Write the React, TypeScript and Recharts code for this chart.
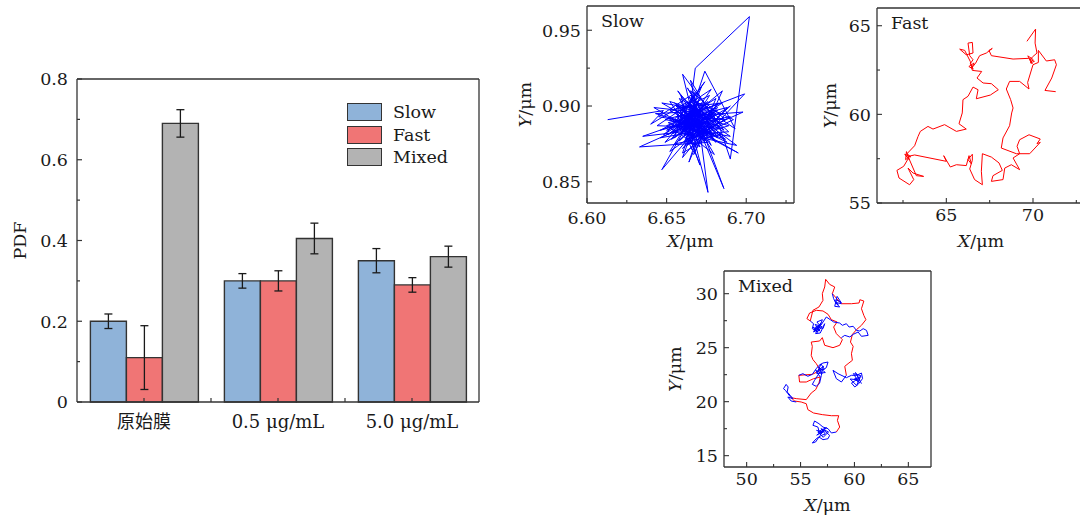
import React from "react";
import { BarChart, Bar, XAxis, YAxis, ErrorBar, Legend, LineChart, Line } from "recharts";

const FONT = "'DejaVu Serif', 'Noto Sans CJK SC', serif";
const INK = "#1a1a1a";
const AXIS = "#333333";

// ---- PDF bar chart ----
const categories = ["原始膜", "0.5 μg/mL", "5.0 μg/mL"];
const seriesNames = ["Slow", "Fast", "Mixed"];
const slowPdf = [0.2, 0.3, 0.35];
const slowErr = [0.018, 0.018, 0.03];
const fastPdf = [0.11, 0.3, 0.29];
const fastErr = [0.079, 0.025, 0.018];
const mixedPdf = [0.69, 0.405, 0.36];
const mixedErr = [0.034, 0.038, 0.026];
const pdfTicks = [0, 0.1, 0.2, 0.3, 0.4, 0.5, 0.6, 0.7, 0.8];

const barData = categories.map((name, i) => ({
  name,
  slow: slowPdf[i],
  slowErr: slowErr[i],
  fast: fastPdf[i],
  fastErr: fastErr[i],
  mixed: mixedPdf[i],
  mixedErr: mixedErr[i],
}));

// ---- trajectories (x, y in μm) ----
const slowPath: [number, number][] = [
  [6.613, 0.891], [6.648, 0.897], [6.64, 0.888], [6.662, 0.902], [6.655, 0.879], [6.671, 0.895],
  [6.65, 0.884], [6.682, 0.899], [6.66, 0.872], [6.676, 0.887], [6.645, 0.893], [6.668, 0.909],
  [6.657, 0.886], [6.69, 0.893], [6.665, 0.878], [6.673, 0.902], [6.652, 0.897], [6.68, 0.881],
  [6.662, 0.89], [6.635, 0.88], [6.668, 0.884], [6.658, 0.905], [6.684, 0.889], [6.666, 0.897],
  [6.649, 0.876], [6.677, 0.893], [6.661, 0.884], [6.672, 0.913], [6.654, 0.89], [6.687, 0.878],
  [6.669, 0.892], [6.66, 0.866], [6.675, 0.885], [6.647, 0.902], [6.67, 0.898], [6.663, 0.88],
  [6.681, 0.895], [6.656, 0.893], [6.676, 0.876], [6.633, 0.873], [6.665, 0.888], [6.671, 0.906],
  [6.659, 0.882], [6.694, 0.874], [6.667, 0.895], [6.652, 0.87], [6.679, 0.89], [6.664, 0.9],
  [6.686, 0.884], [6.66, 0.921], [6.668, 0.887], [6.655, 0.898], [6.674, 0.88], [6.699, 0.908],
  [6.662, 0.893], [6.671, 0.873], [6.65, 0.887], [6.683, 0.902], [6.666, 0.883], [6.676, 0.843],
  [6.67, 0.891], [6.658, 0.877], [6.679, 0.897], [6.643, 0.895], [6.672, 0.886], [6.665, 0.91],
  [6.686, 0.892], [6.657, 0.884], [6.669, 0.899], [6.647, 0.858], [6.664, 0.879], [6.689, 0.887],
  [6.661, 0.896], [6.674, 0.916], [6.653, 0.886], [6.677, 0.889], [6.667, 0.868], [6.685, 0.91],
  [6.66, 0.888], [6.673, 0.894], [6.698, 0.896], [6.666, 0.881], [6.651, 0.892], [6.678, 0.883],
  [6.663, 0.903], [6.686, 0.8455], [6.671, 0.888], [6.656, 0.901], [6.68, 0.878], [6.668, 0.893],
  [6.655, 0.902], [6.681, 0.876], [6.664, 0.897], [6.672, 0.879], [6.651, 0.889], [6.688, 0.899],
  [6.667, 0.874], [6.659, 0.907], [6.679, 0.886], [6.662, 0.878], [6.673, 0.899], [6.646, 0.884],
  [6.684, 0.895], [6.666, 0.871], [6.656, 0.896], [6.677, 0.907], [6.661, 0.881], [6.689, 0.883],
  [6.669, 0.902], [6.653, 0.878], [6.675, 0.892], [6.663, 0.912], [6.682, 0.879], [6.658, 0.893],
  [6.671, 0.881], [6.642, 0.899], [6.668, 0.896], [6.678, 0.874], [6.66, 0.899], [6.685, 0.902],
  [6.654, 0.882], [6.672, 0.889], [6.664, 0.863], [6.681, 0.905], [6.657, 0.889], [6.676, 0.881],
  [6.666, 0.904], [6.692, 0.891], [6.661, 0.876], [6.67, 0.897], [6.649, 0.891], [6.683, 0.885],
  [6.665, 0.917], [6.674, 0.876], [6.656, 0.9], [6.68, 0.893], [6.662, 0.886], [6.671, 0.861],
  [6.659, 0.894], [6.687, 0.891], [6.667, 0.879], [6.652, 0.903], [6.675, 0.895], [6.663, 0.874],
  [6.69, 0.9], [6.669, 0.886], [6.644, 0.887], [6.678, 0.911], [6.66, 0.884], [6.673, 0.891],
  [6.655, 0.875], [6.684, 0.881], [6.667, 0.899], [6.658, 0.886], [6.68, 0.868], [6.665, 0.894],
  [6.651, 0.881], [6.676, 0.903], [6.663, 0.889], [6.688, 0.876], [6.67, 0.893], [6.657, 0.91],
  [6.673, 0.884], [6.646, 0.879], [6.682, 0.897], [6.666, 0.887], [6.66, 0.869], [6.679, 0.881],
  [6.664, 0.906], [6.693, 0.885], [6.674, 0.923], [6.662, 0.885], [6.69, 0.88], [6.666, 0.897],
  [6.648, 0.881], [6.676, 0.9], [6.659, 0.889], [6.695, 0.869], [6.67, 0.884], [6.664, 0.893],
  [6.668, 0.925], [6.702, 0.959], [6.69, 0.865], [6.683, 0.887], [6.665, 0.891],
];

const fastPath: [number, number][] = [
  [69.65, 64.12], [70.15, 64.81], [70.12, 64.02], [70.23, 63.46], [69.96, 63.23], [69.81, 63.08],
  [69.95, 62.85], [69.7, 63.3], [70.0, 63.1], [69.85, 62.9],
  [70.08, 62.99], [69.73, 63.16], [68.85, 63.12], [67.6, 63.31], [67.46, 63.61], [67.65, 63.72],
  [67.31, 63.46], [66.92, 63.31], [66.69, 62.89], [66.46, 62.61],
  [66.6, 62.9], [66.3, 62.7], [66.55, 62.55], [66.4, 62.85],
  [66.38, 62.86], [66.54, 63.08],
  [66.35, 63.31], [66.25, 64.02], [66.5, 64.06], [66.54, 63.46], [66.15, 63.36], [65.77, 63.68],
  [66.06, 63.61], [66.38, 62.99], [66.5, 62.48], [67.04, 62.42], [66.77, 62.05], [67.12, 61.77],
  [67.6, 61.73], [68.0, 61.39], [67.54, 61.09], [66.73, 60.88], [66.83, 61.39], [66.54, 61.54],
  [66.25, 61.02], [65.96, 60.83], [65.92, 60.08], [65.73, 59.47], [66.15, 59.17], [65.58, 59.04],
  [64.9, 59.42], [64.23, 59.17], [63.94, 59.32], [63.5, 59.04], [63.37, 58.76], [63.17, 58.23],
  [62.73, 57.78], [62.95, 57.6], [62.6, 57.75], [62.85, 57.45], [62.7, 57.9],
  [62.65, 57.44], [62.88, 57.63], [62.54, 57.07], [62.15, 56.84], [62.27, 56.41],
  [62.88, 56.03], [63.12, 56.32], [62.79, 56.97], [63.08, 56.69], [63.69, 56.5], [63.27, 56.54],
  [62.79, 57.63], [63.17, 57.71], [65.0, 57.35], [64.85, 57.67], [65.23, 57.03], [65.58, 57.16],
  [66.15, 57.11], [66.31, 57.67], [66.45, 57.2], [66.25, 57.45], [66.5, 57.75],
  [66.5, 57.41], [66.35, 56.92], [66.63, 56.32], [67.08, 56.03],
  [67.02, 56.79], [67.08, 57.78], [67.6, 57.59], [68.04, 57.26], [68.23, 56.84], [67.69, 56.54],
  [67.6, 56.22], [68.27, 56.32], [68.37, 56.97], [68.75, 57.16], [69.23, 56.88], [68.85, 57.54],
  [69.23, 57.78], [69.08, 58.2], [69.23, 58.57], [69.77, 58.85], [70.42, 58.61], [70.23, 58.35],
  [70.42, 58.42], [69.81, 57.78], [69.04, 57.78], [68.17, 58.1], [68.27, 58.67], [68.65, 59.36],
  [68.77, 60.08], [68.85, 60.36], [68.71, 60.83], [68.46, 61.43], [68.65, 61.86], [69.23, 61.86],
  [69.77, 61.43], [69.69, 61.8], [70.0, 62.8], [70.31, 62.93], [70.31, 63.61], [70.77, 63.01],
  [71.25, 63.08], [71.35, 62.8], [71.08, 62.05], [70.69, 61.35], [71.31, 61.28],
];

const mixedRed: [number, number][] = [
  [58.32, 17.19], [58.63, 17.65], [58.42, 18.27], [58.54, 18.7], [57.86, 18.7], [57.02, 18.8],
  [56.21, 18.95], [55.68, 19.26], [55.53, 19.81], [55.06, 19.97], [54.44, 20.06], [54.13, 20.37],
  [54.6, 20.28], [55.53, 20.19], [55.99, 20.8], [56.4, 21.11], [56.71, 21.73], [56.83, 22.28],
  [56.21, 22.13], [55.53, 21.82], [54.91, 21.82], [54.84, 22.44], [56.09, 22.53], [56.83, 22.9],
  [56.46, 23.52], [56.15, 23.89], [55.99, 24.29], [56.09, 25.12], [55.99, 25.52], [56.77, 25.62],
  [57.02, 25.93], [57.24, 25.22], [58.01, 25.0], [58.63, 25.22], [58.88, 25.74], [58.32, 26.3],
  [58.07, 26.91], [58.39, 27.38], [57.86, 27.59], [57.55, 28.09], [57.08, 28.4], [56.46, 28.46],
  [55.84, 28.21], [55.59, 27.69], [55.9, 27.47], [56.15, 28.46], [56.71, 28.77], [57.08, 29.38],
  [57.02, 30.0], [57.24, 30.62], [57.33, 31.33], [57.7, 30.86], [58.17, 30.62], [57.95, 30.0],
  [58.79, 29.07], [59.72, 29.07], [60.43, 29.14], [60.5, 29.44], [60.87, 29.32], [60.65, 28.61],
  [60.87, 27.99], [61.06, 27.59], [60.65, 27.07], [60.19, 26.67], [59.81, 26.23], [59.63, 25.52],
  [59.88, 25.12], [59.72, 24.44], [59.81, 23.83], [59.41, 23.52], [59.1, 23.27], [59.25, 22.44],
];

const mixedBlue1: [number, number][] = [
  [57.95, 30.0], [58.07, 29.54], [58.26, 29.14], [58.63, 28.77], [58.17, 28.83], [58.32, 29.44],
  [58.79, 29.14], [58.39, 29.75], [58.26, 29.32], [58.5, 28.95], [58.2, 29.2], [58.79, 29.07],
];
const mixedBlue2: [number, number][] = [
  [55.9, 27.47], [56.21, 27.22], [56.09, 26.76], [56.46, 26.54], [56.77, 27.07], [56.52, 27.38],
  [57.02, 27.59], [56.71, 26.76], [56.21, 26.45], [56.46, 26.98], [57.08, 26.76], [57.24, 27.22],
  [56.83, 26.36], [56.4, 26.3], [56.61, 26.91], [56.3, 26.6], [56.9, 27.3], [56.55, 26.4],
  [56.15, 26.9], [56.8, 26.55], [56.35, 27.15], [57.0, 26.95], [56.6, 26.5], [56.25, 26.7],
  [56.9, 27.1], [57.39, 27.84],
];
const mixedBlue3: [number, number][] = [
  [57.39, 27.84], [57.76, 27.59], [58.07, 27.38], [58.63, 27.28], [58.88, 27.07], [59.25, 27.22],
  [59.5, 26.91], [59.88, 26.98], [60.19, 26.6], [60.5, 26.54], [60.81, 26.76], [61.12, 26.6],
  [61.27, 26.14], [60.65, 26.05], [60.34, 26.45], [59.88, 26.23], [59.57, 25.99], [59.1, 26.14],
  [58.79, 25.93],
];
const mixedBlue4: [number, number][] = [
  [54.84, 22.44], [55.22, 22.59], [55.68, 22.35], [56.09, 22.53], [56.46, 23.06], [56.71, 23.36],
  [57.08, 23.58], [57.55, 23.67], [57.39, 23.15], [57.02, 22.9], [56.93, 22.44], [56.77, 21.73],
  [56.46, 21.42], [56.09, 21.6], [56.3, 21.98], [57.14, 23.27], [56.6, 22.9], [57.2, 23.0],
  [56.9, 23.5], [56.5, 22.6], [57.3, 22.7], [56.7, 23.2], [57.0, 22.6], [56.4, 22.9], [56.83, 22.28],
];
const mixedBlue5: [number, number][] = [
  [59.25, 22.44], [58.79, 21.82], [58.32, 22.13], [58.01, 22.9], [58.48, 22.59], [59.25, 22.22],
  [59.72, 22.44], [60.19, 22.44], [60.65, 22.65], [60.75, 22.13], [60.34, 21.6], [60.03, 21.36],
  [59.72, 21.73], [60.12, 21.98], [60.5, 22.28], [60.0, 22.1], [60.4, 21.8], [59.9, 22.6],
  [60.6, 22.4], [60.2, 21.5], [59.6, 22.1], [60.5, 22.0], [60.1, 22.7], [60.65, 21.67],
];
const mixedBlue6: [number, number][] = [
  [54.13, 20.37], [53.82, 20.74], [53.6, 21.05], [53.42, 21.2], [53.66, 21.6], [53.85, 21.36],
  [53.76, 20.9], [54.04, 20.59], [54.29, 20.28], [53.82, 20.43], [54.13, 20.06], [54.6, 19.97],
];
const mixedBlue7: [number, number][] = [
  [58.32, 17.19], [57.86, 17.1], [57.55, 17.5], [57.08, 17.65], [56.71, 17.96], [56.3, 18.21],
  [56.15, 17.81], [56.61, 17.65], [56.77, 17.04], [57.24, 17.28], [57.7, 16.88], [57.55, 16.57],
  [57.08, 16.48], [56.71, 16.73], [56.4, 16.27], [56.09, 16.17], [56.46, 16.57], [56.93, 16.88],
  [57.3, 17.0], [56.9, 17.5], [57.6, 17.2], [57.1, 16.7], [56.6, 17.2], [57.4, 17.6],
  [56.8, 16.9], [57.2, 17.4], [56.5, 16.9], [57.0, 17.2], [56.46, 17.35],
];

const toPts = (arr: [number, number][]) => arr.map(([x, y]) => ({ x, y }));
const axisLine = { stroke: AXIS, strokeWidth: 1.3 };
const textStyle = { fontFamily: FONT, fontSize: 17.5, fill: INK };

function PdfTick({ x, y, payload }: any) {
  const v = payload.value;
  const major = Math.round(v * 10) % 2 === 0;
  return (
    <g>
      <line x1={x} x2={x + (major ? 5 : 3)} y1={y} y2={y} stroke={AXIS} strokeWidth={1.2} />
      {major && (
        <text x={x - 9} y={y} dy="0.36em" textAnchor="end" {...textStyle}>
          {v === 0 ? "0" : v.toFixed(1)}
        </text>
      )}
    </g>
  );
}

function CatTick({ x, y, payload, index }: any) {
  return (
    <g>
      <line x1={x} x2={x} y1={y} y2={y - 4} stroke={AXIS} strokeWidth={1.2} />
      {index < categories.length - 1 && (
        <line x1={x + 67} x2={x + 67} y1={y} y2={y - 4} stroke={AXIS} strokeWidth={1.2} />
      )}
      <text x={x} y={y + 26} textAnchor="middle" {...textStyle} fontSize={18}>
        {payload.value}
      </text>
    </g>
  );
}

function XNumTick({ x, y, payload, major, digits, dy }: any) {
  const v = payload.value;
  const isMajor = major.some((m: number) => Math.abs(m - v) < 1e-9);
  return (
    <g>
      <line x1={x} x2={x} y1={y} y2={y - (isMajor ? 5 : 3)} stroke={AXIS} strokeWidth={1.1} />
      {isMajor && (
        <text x={x} y={y + dy} textAnchor="middle" {...textStyle}>
          {v.toFixed(digits)}
        </text>
      )}
    </g>
  );
}

function YNumTick({ x, y, payload, major, digits }: any) {
  const v = payload.value;
  const isMajor = major.some((m: number) => Math.abs(m - v) < 1e-9);
  return (
    <g>
      <line x1={x} x2={x + (isMajor ? 5 : 3)} y1={y} y2={y} stroke={AXIS} strokeWidth={1.1} />
      {isMajor && (
        <text x={x - 6} y={y} dy="0.36em" textAnchor="end" {...textStyle}>
          {v.toFixed(digits)}
        </text>
      )}
    </g>
  );
}

const yTitle = (dist: number, italic: string, rest: string) => (lp: any) => {
  const vb = lp.viewBox || {};
  const cx = vb.x + vb.width - dist;
  const cy = vb.y + vb.height / 2;
  return (
    <text x={cx} y={cy} textAnchor="middle" dominantBaseline="central" transform={`rotate(-90, ${cx}, ${cy})`} {...textStyle}>
      {italic && <tspan fontStyle="italic">{italic}</tspan>}
      {rest}
    </text>
  );
};

const xTitle = (lp: any) => {
  const vb = lp.viewBox || {};
  return (
    <text x={vb.x + vb.width / 2} y={vb.y + 44} textAnchor="middle" {...textStyle}>
      <tspan fontStyle="italic">X</tspan>/μm
    </text>
  );
};

const panelName = (name: string) => (lp: any) => {
  const vb = lp.viewBox || {};
  return (
    <text x={vb.x + 14} y={vb.y + (vb.height || 0) + 21} {...textStyle}>
      {name}
    </text>
  );
};

function LegendBox({ payload }: any) {
  const items = [...(payload || [])].sort(
    (a: any, b: any) => seriesNames.indexOf(a.value) - seriesNames.indexOf(b.value),
  );
  return (
    <div style={{ fontFamily: FONT }}>
      {items.map((e: any) => (
        <div key={e.value} style={{ display: "flex", alignItems: "center", height: 22.5 }}>
          <div
            style={{
              width: 35,
              height: 18,
              boxSizing: "border-box",
              border: `1.5px solid ${AXIS}`,
              background: e.color,
            }}
          />
          <span style={{ marginLeft: 11, fontSize: 17.5, color: INK }}>{e.value}</span>
        </div>
      ))}
    </div>
  );
}

type Series = { data: [number, number][]; color: string };
type PanelProps = {
  left: number;
  top: number;
  width: number;
  height: number;
  margin: { top: number; right: number; left: number; bottom: number };
  xDomain: [number, number];
  yDomain: [number, number];
  xMajor: number[];
  xMinor: number[];
  yMajor: number[];
  yMinor: number[];
  digits: number;
  name: string;
  yTitleDist: number;
  xLabelDy: number;
  series: Series[];
};

function TrajPanel(p: PanelProps) {
  return (
    <div style={{ position: "absolute", left: p.left, top: p.top }}>
      <LineChart width={p.width} height={p.height} margin={p.margin}>
        <XAxis
          type="number"
          dataKey="x"
          domain={p.xDomain}
          allowDataOverflow
          ticks={[...p.xMajor, ...p.xMinor]}
          interval={0}
          height={40}
          tickSize={0}
          tickMargin={0}
          tickLine={false}
          axisLine={axisLine}
          tick={<XNumTick major={p.xMajor} digits={p.digits} dy={p.xLabelDy} />}
          label={{ content: xTitle }}
        />
        <XAxis
          xAxisId="t"
          orientation="top"
          type="number"
          domain={p.xDomain}
          allowDataOverflow
          height={1}
          tick={false}
          tickLine={false}
          axisLine={axisLine}
          label={{ content: panelName(p.name) }}
        />
        <YAxis
          type="number"
          dataKey="y"
          domain={p.yDomain}
          allowDataOverflow
          ticks={[...p.yMajor, ...p.yMinor]}
          interval={0}
          width={60}
          tickSize={0}
          tickMargin={0}
          tickLine={false}
          axisLine={axisLine}
          tick={<YNumTick major={p.yMajor} digits={p.digits} />}
          label={{ content: yTitle(p.yTitleDist, "Y", "/μm") }}
        />
        <YAxis
          yAxisId="r"
          orientation="right"
          type="number"
          domain={p.yDomain}
          allowDataOverflow
          width={1}
          tick={false}
          tickLine={false}
          axisLine={axisLine}
        />
        {p.series.map((s, i) => (
          <Line
            key={i}
            data={toPts(s.data)}
            dataKey="y"
            stroke={s.color}
            strokeWidth={1}
            dot={false}
            activeDot={false}
            isAnimationActive={false}
          />
        ))}
      </LineChart>
    </div>
  );
}

export default function App() {
  return (
    <div
      style={{
        position: "fixed",
        left: 0,
        top: 0,
        width: 1080,
        height: 517,
        overflow: "hidden",
        background: "#fff",
        fontFamily: FONT,
      }}
    >
      <div style={{ position: "absolute", left: 0, top: 0 }}>
        <BarChart
          width={484}
          height={450}
          data={barData}
          margin={{ top: 78, right: 4, left: 17, bottom: 8 }}
          barCategoryGap="10%"
          barGap={0}
        >
          <XAxis
            dataKey="name"
            height={40}
            interval={0}
            tickSize={0}
            tickMargin={0}
            tickLine={false}
            axisLine={axisLine}
            tick={<CatTick />}
          />
          <XAxis xAxisId="t" orientation="top" dataKey="name" height={1} tick={false} tickLine={false} axisLine={axisLine} />
          <YAxis
            domain={[0, 0.8]}
            ticks={pdfTicks}
            interval={0}
            width={60}
            tickSize={0}
            tickMargin={0}
            tickLine={false}
            axisLine={axisLine}
            tick={<PdfTick />}
            label={{ content: yTitle(57, "", "PDF") }}
          />
          <YAxis yAxisId="r" orientation="right" domain={[0, 0.8]} width={1} tick={false} tickLine={false} axisLine={axisLine} />
          <Legend
            layout="vertical"
            align="center"
            verticalAlign="middle"
            wrapperStyle={{ left: 347, top: 101, width: 130, height: 68 }}
            content={<LegendBox />}
          />
          <Bar dataKey="slow" name="Slow" fill="#8fb3d9" stroke={AXIS} strokeWidth={1.4} isAnimationActive={false}>
            <ErrorBar dataKey="slowErr" width={4} stroke={INK} strokeWidth={1.3} />
          </Bar>
          <Bar dataKey="fast" name="Fast" fill="#f07575" stroke={AXIS} strokeWidth={1.4} isAnimationActive={false}>
            <ErrorBar dataKey="fastErr" width={4} stroke={INK} strokeWidth={1.3} />
          </Bar>
          <Bar dataKey="mixed" name="Mixed" fill="#b3b3b3" stroke={AXIS} strokeWidth={1.4} isAnimationActive={false}>
            <ErrorBar dataKey="mixedErr" width={4} stroke={INK} strokeWidth={1.3} />
          </Bar>
        </BarChart>
      </div>

      <TrajPanel
        left={510}
        top={0}
        width={300}
        height={260}
        margin={{ top: 5, right: 15, left: 17, bottom: 17 }}
        xDomain={[6.6, 6.73]}
        yDomain={[0.836, 0.966]}
        xMajor={[6.6, 6.65, 6.7]}
        xMinor={[6.625, 6.675, 6.725]}
        yMajor={[0.85, 0.9, 0.95]}
        yMinor={[0.875, 0.925]}
        digits={2}
        name="Slow"
        yTitleDist={62}
        xLabelDy={21}
        series={[{ data: slowPath, color: "#0000ff" }]}
      />
      <TrajPanel
        left={800}
        top={0}
        width={300}
        height={260}
        margin={{ top: 7, right: 14, left: 17, bottom: 17 }}
        xDomain={[61, 73]}
        yDomain={[55, 66]}
        xMajor={[65, 70]}
        xMinor={[62.5, 67.5, 72.5]}
        yMajor={[55, 60, 65]}
        yMinor={[57.5, 62.5]}
        digits={0}
        name="Fast"
        yTitleDist={47}
        xLabelDy={18}
        series={[{ data: fastPath, color: "#ff0000" }]}
      />
      <TrajPanel
        left={650}
        top={260}
        width={300}
        height={257}
        margin={{ top: 10, right: 18, left: 14, bottom: 10 }}
        xDomain={[47.9, 67.1]}
        yDomain={[13.95, 32.1]}
        xMajor={[50, 55, 60, 65]}
        xMinor={[52.5, 57.5, 62.5]}
        yMajor={[15, 20, 25, 30]}
        yMinor={[17.5, 22.5, 27.5]}
        digits={0}
        name="Mixed"
        yTitleDist={49}
        xLabelDy={18}
        series={[
          { data: mixedRed, color: "#ff0000" },
          { data: mixedBlue1, color: "#0000ff" },
          { data: mixedBlue2, color: "#0000ff" },
          { data: mixedBlue3, color: "#0000ff" },
          { data: mixedBlue4, color: "#0000ff" },
          { data: mixedBlue5, color: "#0000ff" },
          { data: mixedBlue6, color: "#0000ff" },
          { data: mixedBlue7, color: "#0000ff" },
        ]}
      />
    </div>
  );
}
